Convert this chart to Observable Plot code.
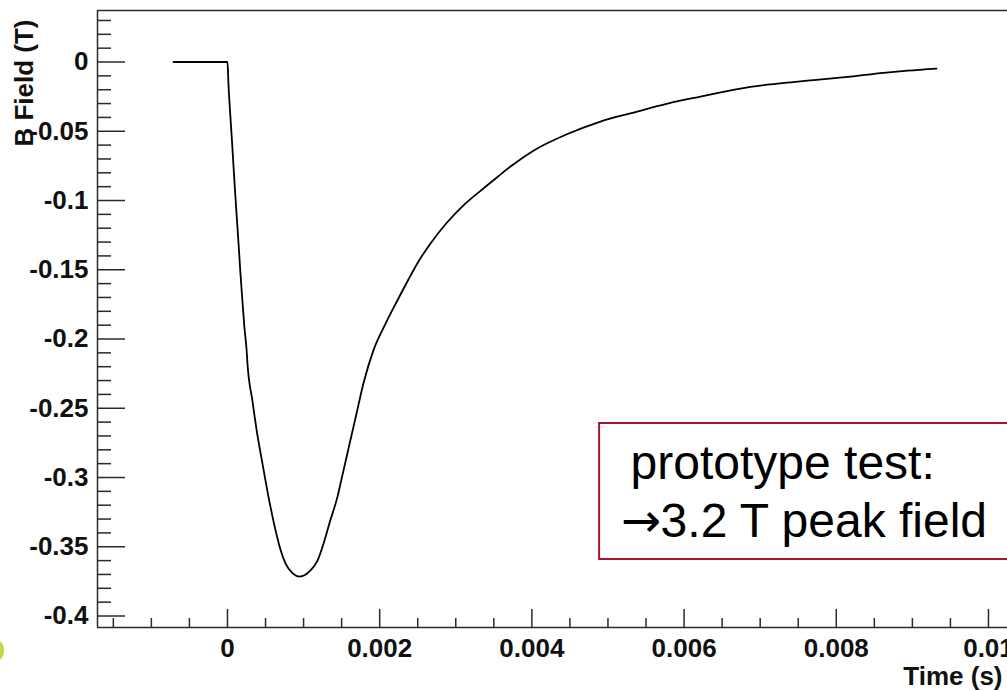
<!DOCTYPE html>
<html>
<head>
<meta charset="utf-8">
<script src="https://cdn.jsdelivr.net/npm/d3@7"></script>
<script src="https://cdn.jsdelivr.net/npm/@observablehq/plot@0.6"></script>
<style>
  @font-face { font-family: "ArrowGlyph"; src: local("DejaVu Sans"), local("DejaVuSans"); unicode-range: U+2192; }
  html, body { margin: 0; padding: 0; background: #fff; overflow: hidden; width: 1007px; height: 691px; }
  #chart { position: relative; width: 1007px; height: 691px; overflow: hidden; }
  #blob { position: absolute; left: -7px; top: 641px; width: 11px; height: 19px; border-radius: 50%; background: #c9d646; }
</style>
</head>
<body>
<div id="chart"><div id="blob"></div></div>
<script>
// ---- data ----
const timeMs = [-0.71, 0, 0.013, 0.039, 0.066, 0.079, 0.105, 0.131, 0.158, 0.171, 0.197, 0.223, 0.25, 0.263,
  0.329, 0.381, 0.46, 0.539, 0.631, 0.696, 0.762, 0.854, 0.946, 1.091, 1.183, 1.261, 1.34, 1.445, 1.524,
  1.603, 1.695, 1.787, 1.919, 2.076, 2.234, 2.378, 2.51, 2.668, 2.891, 3.101, 3.325, 3.548, 3.719, 4.021,
  4.468, 4.901, 5.335, 5.782, 6.216, 6.873, 7.53, 8.187, 8.62, 8.936, 9.317];
const fieldT = [0, 0, -0.016, -0.040, -0.063, -0.075, -0.098, -0.119, -0.142, -0.153, -0.173, -0.192, -0.207, -0.218,
  -0.245, -0.265, -0.290, -0.314, -0.338, -0.352, -0.362, -0.369, -0.3715, -0.367, -0.360, -0.348, -0.333, -0.314, -0.295,
  -0.276, -0.254, -0.232, -0.208, -0.189, -0.172, -0.157, -0.144, -0.131, -0.1155, -0.1035, -0.093, -0.083, -0.0755, -0.064,
  -0.052, -0.043, -0.0365, -0.030, -0.025, -0.018, -0.014, -0.0105, -0.0078, -0.0062, -0.0047];

const xMajor = [0, 0.002, 0.004, 0.006, 0.008, 0.01];
const xLabels = ["0", "0.002", "0.004", "0.006", "0.008", "0.01"];
const yMajor = [0, -0.05, -0.1, -0.15, -0.2, -0.25, -0.3, -0.35, -0.4];
const yLabels = ["0", "-0.05", "-0.1", "-0.15", "-0.2", "-0.25", "-0.3", "-0.35", "-0.4"];

const xDomain = [-0.001708, 0.01025];
const yDomain = [-0.4083, 0.0372];

const noteLines = ["prototype test:", "\u21923.2 T peak field"];
const noteX = [0.00489, 0.0112];
const noteY = [-0.261, -0.3592];

const xTitle = "Time (s)";
const yTitle = "B Field (T)";

// ---- derived tables ----
const curve = timeMs.map((t, i) => ({time: t / 1000, field: fieldT[i]}));
const xMinor = d3.range(-3, 21).map(k => k * 0.0005).filter(v => Math.abs(v / 0.002 - Math.round(v / 0.002)) > 1e-6);
const yMinor = d3.range(-40, 4).map(k => k / 100).filter(v => Math.abs(v / 0.05 - Math.round(v / 0.05)) > 1e-6);

const W = 1007, H = 691, mL = 97, mT = 10, mB = 64, mR = 0;
const frameW = W - mL - mR, frameH = H - mT - mB;
const axisColor = "#2a2a2a";
const font = "'Liberation Sans', Arial, Helvetica, sans-serif";
const noteFont = "ArrowGlyph, 'Liberation Sans', Arial, Helvetica, sans-serif";
const noteColor = "#a8122f";

const chart = Plot.plot({
  width: W,
  height: H,
  marginLeft: mL,
  marginRight: mR,
  marginTop: mT,
  marginBottom: mB,
  style: {fontFamily: font, background: "white", overflow: "visible"},
  x: {domain: xDomain, axis: null},
  y: {domain: yDomain, axis: null},
  marks: [
    // frame (top, bottom, left)
    Plot.ruleY([yDomain[0], yDomain[1]], {stroke: axisColor, strokeWidth: 1.5}),
    Plot.ruleX([xDomain[0]], {stroke: axisColor, strokeWidth: 1.5}),
    // inward ticks
    Plot.tickX(xMajor, {x: d => d, insetTop: frameH - 18, stroke: axisColor, strokeWidth: 1.5}),
    Plot.tickX(xMinor, {x: d => d, insetTop: frameH - 9, stroke: axisColor, strokeWidth: 1.5}),
    Plot.tickY(yMajor, {y: d => d, insetRight: frameW - 28, stroke: axisColor, strokeWidth: 1.5}),
    Plot.tickY(yMinor, {y: d => d, insetRight: frameW - 14, stroke: axisColor, strokeWidth: 1.5}),
    // tick labels
    Plot.axisX({ticks: xMajor, tickSize: 0, tickPadding: 11, label: null,
      tickFormat: d => xLabels[xMajor.indexOf(d)], fontSize: 26, fontWeight: "bold", fill: "#111"}),
    Plot.axisY({ticks: yMajor, tickSize: 0, tickPadding: 9, label: null,
      tickFormat: d => yLabels[yMajor.indexOf(d)], fontSize: 26, fontWeight: "bold", fill: "#111"}),
    // axis titles
    Plot.text([xTitle], {frameAnchor: "bottom-right", text: d => d, textAnchor: "end", lineAnchor: "middle",
      dx: -5, dy: 49, fontSize: 26, fontWeight: "bold", fill: "#111"}),
    Plot.text([yTitle], {frameAnchor: "top-left", text: d => d, rotate: -90, textAnchor: "end", lineAnchor: "middle",
      dx: -73, dy: 9, fontSize: 26, fontWeight: "bold", fill: "#111"}),
    // the curve
    Plot.line(curve, {x: "time", y: "field", stroke: "#000", strokeWidth: 1.8, curve: "monotone-x"}),
    // annotation box
    Plot.rect([0], {x1: () => noteX[0], x2: () => noteX[1], y1: () => noteY[0], y2: () => noteY[1],
      fill: "white", stroke: noteColor, strokeWidth: 2}),
    Plot.text([noteLines[0]], {x: () => noteX[0], y: () => noteY[0], text: d => d, textAnchor: "start",
      lineAnchor: "middle", dx: 31, dy: 40, fontSize: 48, fill: "#000", fontFamily: noteFont}),
    Plot.text([noteLines[1]], {x: () => noteX[0], y: () => noteY[0], text: d => d, textAnchor: "start",
      lineAnchor: "middle", dx: 21, dy: 98, fontSize: 48, fill: "#000", fontFamily: noteFont})
  ]
});
document.getElementById("chart").appendChild(chart);
</script>
</body>
</html>
